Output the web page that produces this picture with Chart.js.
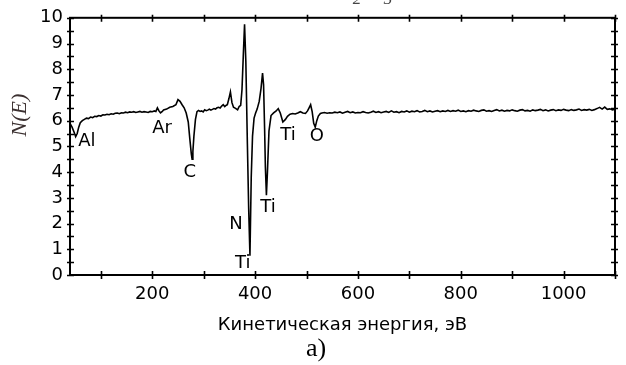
<!DOCTYPE html>
<html>
<head>
<meta charset="utf-8">
<script src="https://cdn.jsdelivr.net/npm/chart.js@4.4.0/dist/chart.umd.min.js"></script>
<style>
  html, body { margin: 0; padding: 0; background: #fff; }
  #wrap { width: 626px; height: 365px; }
</style>
</head>
<body>
<div id="wrap"><canvas id="myChart" width="626" height="365"></canvas></div>
<script>
// Auger spectrum N(E)
var energy = [
  40, 44, 48, 51, 54, 57, 60, 64, 68, 72, 76, 80, 84, 88, 92, 96, 100, 104, 108, 112,
  116, 120, 124, 128, 132, 136, 140, 144, 148, 152, 156, 160, 164, 168, 172, 176, 180, 184, 188, 192,
  196, 200, 204, 207, 210, 213, 216, 219, 222, 228, 234, 240, 246, 250, 254, 258, 262, 266,
  270, 273, 276, 277.5, 279, 281, 284, 287, 290, 293, 296, 299, 302, 305, 308, 311, 314, 317, 320, 323,
  326, 329, 332, 335, 338, 341, 344, 346,
  349, 352, 355, 358, 362, 366, 369, 372, 374.5, 377, 379.5, 382, 385, 387.5, 390, 392.5, 395, 398, 401, 404,
  408, 411.5, 414.5, 416.5, 418.5, 420, 422, 424, 427, 431, 436, 441, 445, 449, 454, 459, 463, 468, 473, 478,
  483, 488, 493, 498, 502, 505, 508, 511, 514, 517, 520, 523, 527,
  530, 535, 540, 545, 550, 555, 560, 565, 570, 575, 580, 585, 590, 595, 600, 605, 610, 615, 620, 625,
  630, 635, 640, 645, 650, 655, 660, 665, 670, 675, 680, 685, 690, 695, 700, 705, 710, 715, 720, 725,
  730, 735, 740, 745, 750, 755, 760, 765, 770, 775, 780, 785, 790, 795, 800, 805, 810, 815, 820, 825,
  830, 835, 840, 845, 850, 855, 860, 865, 870, 875, 880, 885, 890, 895, 900, 905, 910, 915, 920, 925,
  930, 935, 940, 945, 950, 955, 960, 965, 970, 975, 980, 985, 990, 995, 1000, 1005, 1010, 1015, 1020, 1025,
  1030, 1035, 1040, 1045, 1050, 1055, 1060, 1065, 1070, 1075, 1080, 1085, 1090, 1095, 1100
];
var nE = [
  5.9, 5.75, 5.55, 5.38, 5.5, 5.75, 5.92, 6.0, 6.05, 6.1, 6.08, 6.14, 6.12, 6.17, 6.16, 6.2, 6.18, 6.23, 6.22, 6.25,
  6.23, 6.27, 6.25, 6.29, 6.3, 6.27, 6.31, 6.3, 6.33, 6.31, 6.34, 6.33, 6.35, 6.32, 6.34, 6.36, 6.33, 6.35, 6.34, 6.32,
  6.36, 6.35, 6.38, 6.36, 6.5, 6.38, 6.3, 6.35, 6.42, 6.45, 6.52, 6.55, 6.62, 6.82, 6.75, 6.62, 6.5, 6.3,
  5.95, 5.3, 4.7, 4.5, 4.8, 5.4, 6.05, 6.35, 6.4, 6.36, 6.38, 6.34, 6.42, 6.39, 6.41, 6.45, 6.41, 6.44, 6.47, 6.45,
  6.5, 6.52, 6.49, 6.57, 6.62, 6.55, 6.6, 6.62,
  6.85, 7.12, 6.7, 6.52, 6.48, 6.42, 6.55, 6.6, 7.2, 8.5, 9.75, 8.3, 5.1, 2.6, 0.75, 3.8, 5.4, 6.1, 6.3, 6.45,
  6.75, 7.25, 7.85, 7.4, 5.7, 4.2, 3.1, 4.0, 5.6, 6.2, 6.3, 6.38, 6.47, 6.3, 5.95, 6.05, 6.17, 6.25, 6.28, 6.26,
  6.3, 6.35, 6.3, 6.28, 6.38, 6.5, 6.62, 6.35, 5.9, 5.75, 6.0, 6.18, 6.28,
  6.30, 6.32, 6.29, 6.31, 6.30, 6.33, 6.31, 6.34, 6.29, 6.33, 6.36, 6.31, 6.34, 6.30, 6.32, 6.31, 6.35, 6.32, 6.30, 6.33,
  6.37, 6.32, 6.35, 6.31, 6.34, 6.36, 6.32, 6.38, 6.33, 6.35, 6.31, 6.36, 6.34, 6.38, 6.33, 6.37, 6.35, 6.39, 6.34, 6.36,
  6.40, 6.35, 6.38, 6.34, 6.37, 6.39, 6.35, 6.38, 6.36, 6.40, 6.36, 6.39, 6.37, 6.41, 6.36, 6.38, 6.35, 6.39, 6.37, 6.41,
  6.38, 6.36, 6.40, 6.42, 6.37, 6.39, 6.36, 6.40, 6.43, 6.38, 6.41, 6.37, 6.40, 6.38, 6.42, 6.39, 6.37, 6.41, 6.43, 6.38,
  6.40, 6.37, 6.42, 6.39, 6.41, 6.44, 6.39, 6.42, 6.38, 6.41, 6.43, 6.39, 6.42, 6.40, 6.44, 6.41, 6.39, 6.43, 6.40, 6.42,
  6.45, 6.40, 6.43, 6.41, 6.44, 6.40, 6.43, 6.47, 6.52, 6.45, 6.53, 6.44, 6.46, 6.42, 6.45
];

// x axis ticks and labelled values
var xTicks = [100, 200, 300, 400, 500, 600, 700, 800, 900, 1000, 1100];
var xLabels = [200, 400, 600, 800, 1000];

// element labels on the curve (energy, N(E) position of text centre)
var peakText = ["Al", "Ar", "C", "N", "Ti", "Ti", "Ti", "O"];
var peakE = [73, 219, 273, 363, 376, 425, 464, 520];
var peakN = [5.19, 5.69, 4.0, 1.96, 0.46, 2.62, 5.42, 5.38];

var points = energy.map(function (e, i) { return { x: e, y: nE[i] }; });

var frame = {
  id: "frame",
  afterDraw: function (chart) {
    var ctx = chart.ctx;
    var a = chart.chartArea;
    var xs = chart.scales.x;
    var ys = chart.scales.y;
    ctx.save();
    ctx.strokeStyle = "#000";
    ctx.lineWidth = 2;
    ctx.strokeRect(a.left, a.top, a.right - a.left, a.bottom - a.top);

    // ticks crossing the frame
    ctx.lineWidth = 1.6;
    ctx.beginPath();
    xTicks.forEach(function (v) {
      var px = Math.round(xs.getPixelForValue(v)) + 0.5;
      ctx.moveTo(px, a.bottom - 4); ctx.lineTo(px, a.bottom + 4);
      ctx.moveTo(px, a.top - 3); ctx.lineTo(px, a.top + 4);
    });
    for (var v = 0; v <= 10; v += 0.5) {
      var py = Math.round(ys.getPixelForValue(v)) + 0.5;
      ctx.moveTo(a.left - 3, py); ctx.lineTo(a.left + 4, py);
      ctx.moveTo(a.right - 4, py); ctx.lineTo(a.right + 3, py);
    }
    ctx.stroke();

    // peak labels
    ctx.fillStyle = "#000";
    ctx.font = "18px 'DejaVu Sans'";
    ctx.textAlign = "center";
    ctx.textBaseline = "middle";
    peakText.forEach(function (t, i) {
      ctx.fillText(t, xs.getPixelForValue(peakE[i]), ys.getPixelForValue(peakN[i]));
    });

    // y title
    ctx.save();
    ctx.translate(20, 115);
    ctx.rotate(-Math.PI / 2);
    ctx.fillStyle = "#3b3030";
    ctx.font = "italic 22px 'Liberation Serif'";
    ctx.fillText("N(E)", 0, 0);
    ctx.restore();

    // panel label
    ctx.font = "26px 'Liberation Serif'";
    ctx.fillText("a)", 316, 349);

    // clipped remains of the title subscripts
    ctx.fillStyle = "#444";
    ctx.font = "italic 17px 'Liberation Serif'";
    ctx.textBaseline = "alphabetic";
    ctx.fillText("2", 357, 4);
    ctx.fillText("3", 388, 4);
    ctx.restore();
  }
};

var myChart = document.getElementById("myChart").getContext("2d");
var chart = new Chart(myChart, {
  type: "line",
  data: {
    datasets: [
      {
        data: points,
        borderColor: "#000",
        borderWidth: 1.6,
        pointRadius: 0,
        tension: 0,
        fill: false
      }
    ]
  },
  options: {
    responsive: false,
    animation: false,
    layout: { padding: { left: 0, top: 15, right: 11, bottom: 0 } },
    plugins: { legend: { display: false }, tooltip: { enabled: false } },
    scales: {
      x: {
        type: "linear",
        min: 40,
        max: 1100,
        afterBuildTicks: function (scale) {
          scale.ticks = xTicks.map(function (v) { return { value: v }; });
        },
        afterFit: function (scale) { scale.height = 90; },
        grid: { display: false, drawTicks: false },
        border: { display: false },
        ticks: {
          autoSkip: false,
          maxRotation: 0,
          padding: 9,
          color: "#000",
          font: { family: "DejaVu Sans", size: 18 },
          callback: function (v) { return xLabels.indexOf(v) >= 0 ? String(v) : ""; }
        },
        title: {
          display: true,
          text: "Кинетическая энергия, эВ",
          color: "#000",
          font: { family: "DejaVu Sans", size: 18 },
          padding: { top: 0, bottom: 29 }
        }
      },
      y: {
        min: 0,
        max: 10,
        afterFit: function (scale) { scale.width = 70; },
        grid: { display: false, drawTicks: false },
        border: { display: false },
        ticks: {
          stepSize: 1,
          padding: 7,
          color: "#000",
          font: { family: "DejaVu Sans", size: 18 }
        }
      }
    }
  },
  plugins: [frame]
});
</script>
</body>
</html>
